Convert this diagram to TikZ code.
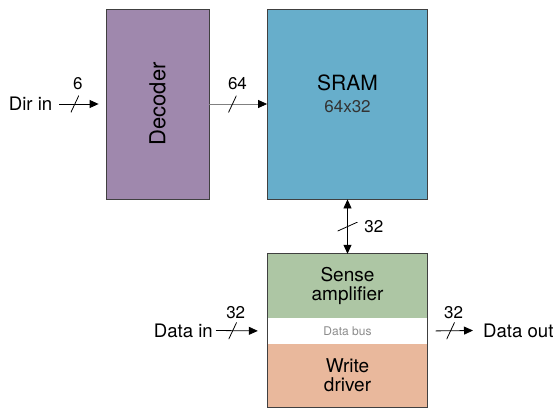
\documentclass[tikz,border=0pt]{standalone}
\usepackage{fontspec}
\usepackage{graphicx}
\setmainfont{TeX Gyre Heros}
\usetikzlibrary{arrows.meta,positioning}
\definecolor{decoderpurple}{HTML}{9F88AD}
\definecolor{sramblue}{HTML}{67AECB}
\definecolor{sensegreen}{HTML}{ADC6A4}
\definecolor{writesalmon}{HTML}{E9B89C}
\tikzset{
  >={Triangle[length=9pt,width=8pt,color=black]},
  block/.style={draw=black!75, line width=0.8pt, inner sep=0pt, align=center},
  cell/.style={inner sep=0pt, minimum width=160pt, align=center, font=\fontsize{19}{19}\selectfont},
  wire/.style={line width=0.8pt, ->},
  txt/.style={inner sep=0pt, font=\fontsize{18.6}{18.6}\selectfont},
  width label/.style={inner sep=0pt, font=\fontsize{17}{17}\selectfont},
  slash/.style={inner sep=0pt, minimum width=8pt, minimum height=17pt,
    path picture={\draw[-, draw=black, line width=0.8pt] (path picture bounding box.south west) -- (path picture bounding box.north east);}}
}
\begin{document}
\begin{tikzpicture}[x=1pt,y=-1pt]
\useasboundingbox (0,0) rectangle (555,408);

\node[block, fill=decoderpurple, minimum width=103pt, minimum height=190pt, font=\fontsize{22}{22}\selectfont] (decoder) at (157.5,104) {\rotatebox{90}{Decoder}};
\node[block, fill=sramblue, minimum width=160pt, minimum height=190pt] (sram) at (347.5,104) {};
\node[inner sep=0pt, font=\fontsize{21}{21}\selectfont] (sramname) at (347.5,83) {SRAM};
\node[inner sep=0pt, text=black!80, font=\fontsize{17}{17}\selectfont] (sramsize) at (347.5,107) {64x32};

\node[cell, fill=sensegreen, minimum height=64pt] (sense) at (347.5,286) {Sense\\amplifier};
\node[cell, fill=white, minimum height=25pt, below=0pt of sense, text=black!45, font=\fontsize{12}{12}\selectfont] (bus) {Data bus};
\node[cell, fill=writesalmon, minimum height=63pt, below=0pt of bus] (write) {Write\\driver};
\draw[draw=black!75, line width=0.8pt] (sense.north west) rectangle (write.south east);

\node[txt, anchor=east] (dirin) at (52.5,104) {Dir in};
\node[txt, anchor=east] (datain) at (213,330.5) {Data in};
\node[txt, anchor=west] (dataout) at (483,330.5) {Data out};

\draw[wire] ([xshift=6.5pt]dirin.east) -- node[slash, pos=0.4, label={[width label, xshift=3pt, yshift=5pt]above:6}] {} ([xshift=-7pt]decoder.west);
\draw[wire, draw=black!50] (decoder.east) -- node[slash, pos=0.4, label={[width label, xshift=5pt, yshift=5pt]above:64}] {} (sram.west);
\draw[wire, <->] (sram.south) -- node[slash, minimum width=20pt, minimum height=9pt, label={[width label, xshift=6pt]right:32}] {} (sense.north);
\draw[wire] ([xshift=3pt]datain.east) -- node[slash, pos=0.4, label={[width label, xshift=3pt, yshift=3pt]above:32}] {} ([xshift=-9.5pt]bus.west);
\draw[wire] ([xshift=8pt]bus.east) -- node[slash, pos=0.4, label={[width label, xshift=3pt, yshift=3pt]above:32}] {} ([xshift=-10pt]dataout.west);
\end{tikzpicture}
\end{document}
